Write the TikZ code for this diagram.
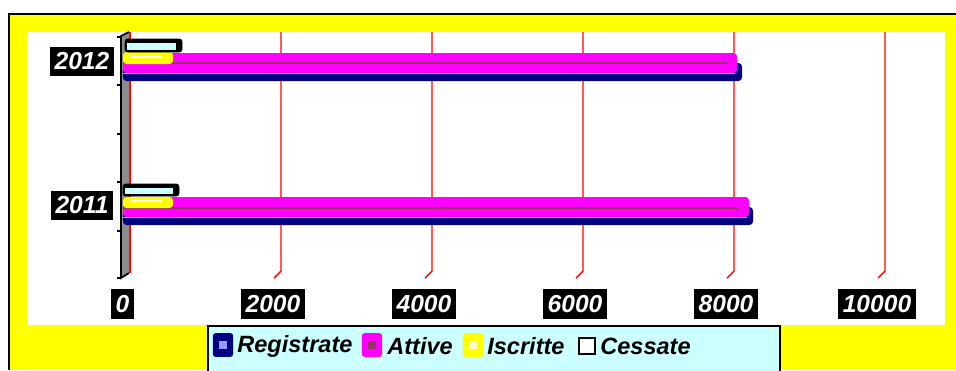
\documentclass[tikz,border=0pt]{standalone}
\usepackage{fontspec}
\setmainfont{Liberation Sans}

\definecolor{frameyellow}{HTML}{FFFF00}
\definecolor{regnavy}{HTML}{000080}
\definecolor{reglight}{HTML}{9999FF}
\definecolor{attmagenta}{HTML}{FF00FF}
\definecolor{attdark}{HTML}{993366}
\definecolor{iscrlight}{HTML}{FFFFCC}
\definecolor{cesscyan}{HTML}{CCFFFF}
\definecolor{wallgray}{HTML}{8C8C8C}

\tikzset{
  darklabel/.style={fill=black, text=white, font=\bfseries\itshape\fontsize{14}{15}\selectfont,
    inner xsep=2.8pt, inner ysep=0pt, minimum height=17pt},
  keytext/.style={font=\bfseries\itshape\fontsize{13.4}{14}\selectfont, anchor=west, inner sep=0pt},
  keybox/.style={rounded corners=1.5pt, minimum width=11.5pt, minimum height=13.5pt, inner sep=0pt},
  gridline/.style={red, line width=0.8pt},
}

\begin{document}
\begin{tikzpicture}[x=0.02cm, y=-0.02cm]
        \useasboundingbox (0,0) rectangle (956,370);

        % frame and plot area
        \fill[frameyellow] (9,14) rectangle (956,370);
        \draw[black, line width=1.2pt] (9,370) -- (9,14) -- (956,14);
        \fill[white] (27,32) rectangle (945,325);

        % grid
        \draw[gridline] (130,32) -- (130,273);
        \draw[gridline] (281,32) -- (281,271) -- (274,278);
        \draw[gridline] (432,32) -- (432,271) -- (425,278);
        \draw[gridline] (583,32) -- (583,271) -- (576,278);
        \draw[gridline] (734,32) -- (734,271) -- (727,278);
        \draw[gridline] (885,32) -- (885,271) -- (878,278);

        % axis wall
        \fill[wallgray] (122,36) -- (129,32) -- (129,273) -- (122,278) -- cycle;
        \draw[black, line width=1pt] (129,32) -- (121,36) -- (121,278) -- (129,273);
        \draw[black, line width=0.8pt] (117,37) -- (121,37);
        \draw[black, line width=0.8pt] (117,85) -- (121,85);
        \draw[black, line width=0.8pt] (117,134) -- (121,134);
        \draw[black, line width=0.8pt] (117,182) -- (121,182);
        \draw[black, line width=0.8pt] (117,231) -- (121,231);
        \draw[black, line width=0.8pt] (117,278) -- (121,278);

        % bars 2012
        \fill[regnavy, rounded corners=2pt] (123,63) rectangle (742,81);
        \fill[attmagenta, rounded corners=2pt] (123,53) rectangle (737,73);
        \draw[attdark, line width=0.6pt] (123,63) -- (727,63);
        \draw[reglight, line width=0.5pt] (123,73.5) -- (735,73.5);
        \fill[frameyellow, rounded corners=2pt] (123,52) rectangle (173,64);
        \draw[white, line width=0.6pt] (130,57) -- (162,57);
        \filldraw[fill=black, draw=black, rounded corners=1.5pt] (125,39) rectangle (182,52);
        \fill[cesscyan] (127,43) rectangle (176,50);

        % bars 2011
        \fill[regnavy, rounded corners=2pt] (123,207) rectangle (753,225);
        \fill[attmagenta, rounded corners=2pt] (123,197) rectangle (749,217);
        \draw[attdark, line width=0.6pt] (123,208) -- (739,208);
        \draw[reglight, line width=0.5pt] (123,217.5) -- (747,217.5);
        \fill[frameyellow, rounded corners=2pt] (123,197) rectangle (173,208);
        \draw[white, line width=0.6pt] (130,201) -- (162,201);
        \filldraw[fill=black, draw=black, rounded corners=1.5pt] (123,184) rectangle (179,196);
        \fill[cesscyan] (125,188) rectangle (173,194);

        % category labels
        \node[darklabel] (y2012) at (82,61.5) {2012};
        \node[darklabel] (y2011) at (82,205.5) {2011};

        % value labels
        \node[darklabel] (v0) at (122.5,304) {0};
        \node[darklabel] (v2000) at (273,304) {2000};
        \node[darklabel] (v4000) at (424,304) {4000};
        \node[darklabel] (v6000) at (575,304) {6000};
        \node[darklabel] (v8000) at (726,304) {8000};
        \node[darklabel] (v10000) at (877,304) {10000};

        % legend
        \filldraw[fill=cesscyan, draw=black, line width=1.2pt] (208,326) rectangle (780,375);
        \node[keybox, fill=regnavy] (kreg) at (223,345) {};
        \fill[reglight] (219,341) rectangle (227,349);
        \node[keytext] (treg) at (237,346) {Registrate};
        \node[keybox, fill=attmagenta] (katt) at (372,345) {};
        \fill[attdark] (368,341) rectangle (376,349);
        \node[keytext] (tatt) at (387,346) {Attive};
        \node[keybox, fill=frameyellow] (kiscr) at (473,345) {};
        \fill[iscrlight] (469,341) rectangle (477,349);
        \node[keytext] (tiscr) at (487,346) {Iscritte};
        \node[draw=black, fill=white, line width=0.8pt, minimum size=9pt, inner sep=0pt] (kcess) at (587,346) {};
        \node[keytext] (tcess) at (600,346) {Cessate};
\end{tikzpicture}
\end{document}
